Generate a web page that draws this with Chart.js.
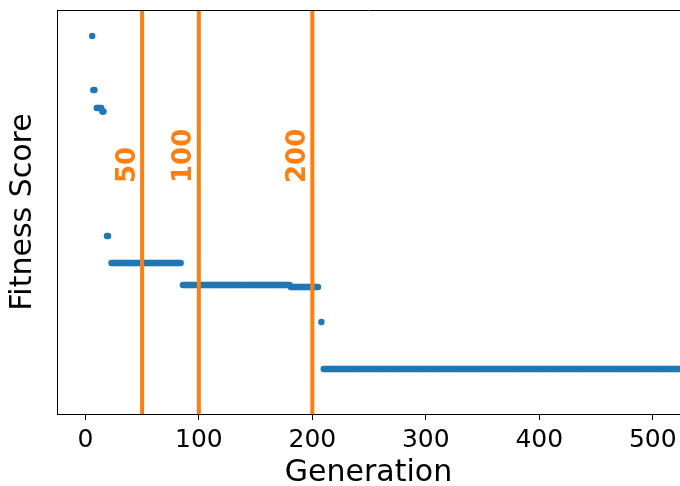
<!DOCTYPE html>
<html>
<head>
<meta charset="utf-8">
<script src="https://cdn.jsdelivr.net/npm/chart.js@4/dist/chart.umd.min.js"></script>
<style>
  html, body { margin: 0; padding: 0; background: #fff; }
  #wrap { width: 680px; height: 486px; }
</style>
</head>
<body>
<div id="wrap"><canvas id="c" width="680" height="486"></canvas></div>
<script>
// Piecewise data: one point per generation in each run
const segStart = [6, 7, 10, 15, 19, 23, 86, 181, 208, 210];
const segEnd   = [6, 8, 14, 16, 20, 84, 180, 205, 208, 620];
const segFitness = [378, 324, 306, 302.5, 178, 151, 129, 127, 92, 45];

const markerGens = [50, 100, 200];
const markerLabels = ['50', '100', '200'];
const markerLabelY = 231;

const xTicks = [0, 100, 200, 300, 400, 500];
const xMin = -25, xMax = 524;
const yMin = 0, yMax = 404;

const points = [];
for (let s = 0; s < segStart.length; s++) {
  for (let g = segStart[s]; g <= segEnd[s]; g++) {
    points.push({ x: g, y: segFitness[s] });
  }
}

const lineDatasets = markerGens.map(g => ({
  type: 'line',
  data: [{ x: g, y: yMin }, { x: g, y: yMax }],
  borderColor: '#ff7f0e',
  borderWidth: 4,
  pointRadius: 0,
  fill: false,
  order: 0
}));

const frameAndLabels = {
  id: 'frameAndLabels',
  afterDatasetsDraw(chart) {
    const { ctx, chartArea, scales } = chart;
    ctx.save();
    // top spine
    ctx.strokeStyle = '#000';
    ctx.lineWidth = 1;
    ctx.beginPath();
    ctx.moveTo(chartArea.left, chartArea.top + 0.5);
    ctx.lineTo(chartArea.right, chartArea.top + 0.5);
    ctx.stroke();
    // rotated labels
    ctx.fillStyle = '#ff7f0e';
    ctx.font = 'bold 26px "DejaVu Sans"';
    ctx.textAlign = 'left';
    ctx.textBaseline = 'alphabetic';
    markerGens.forEach((g, i) => {
      const px = scales.x.getPixelForValue(g) - 7.5;
      const py = scales.y.getPixelForValue(markerLabelY);
      ctx.save();
      ctx.translate(px, py);
      ctx.rotate(-Math.PI / 2);
      ctx.fillText(markerLabels[i], 0, 0);
      ctx.restore();
    });
    ctx.restore();
  }
};

new Chart(document.getElementById('c'), {
  type: 'scatter',
  data: {
    datasets: [
      ...lineDatasets,
      {
        type: 'scatter',
        data: points,
        backgroundColor: '#1f77b4',
        borderWidth: 0,
        pointRadius: 3.2,
        order: 1
      }
    ]
  },
  options: {
    responsive: false,
    animation: false,
    devicePixelRatio: 1,
    layout: { autoPadding: false, padding: { top: 10, right: 0, left: 0, bottom: 0 } },
    plugins: { legend: { display: false }, tooltip: { enabled: false } },
    scales: {
      x: {
        type: 'linear',
        min: xMin,
        max: xMax,
        afterBuildTicks(scale) { scale.ticks = xTicks.map(v => ({ value: v })); },
        afterFit(scale) { scale.height = 72; scale.paddingRight = 0; scale.paddingLeft = 0; },
        grid: { display: true, drawOnChartArea: false, drawTicks: true, tickLength: 6, color: '#000', lineWidth: 1 },
        border: { display: true, color: '#000', width: 1 },
        ticks: { color: '#000', font: { family: 'DejaVu Sans', size: 25 }, padding: 5, maxRotation: 0, autoSkip: false },
        title: { display: true, text: 'Generation', color: '#000', font: { family: 'DejaVu Sans', size: 30, lineHeight: 1 }, padding: { top: 0, bottom: -2 } }
      },
      y: {
        type: 'linear',
        min: yMin,
        max: yMax,
        afterFit(scale) { scale.width = 57; },
        grid: { display: false },
        border: { display: true, color: '#000', width: 1 },
        ticks: { display: false },
        title: { display: true, text: 'Fitness Score', color: '#000', font: { family: 'DejaVu Sans', size: 30, lineHeight: 1 }, padding: { top: 8, bottom: 0 } }
      }
    }
  },
  plugins: [frameAndLabels]
});
</script>
</body>
</html>
